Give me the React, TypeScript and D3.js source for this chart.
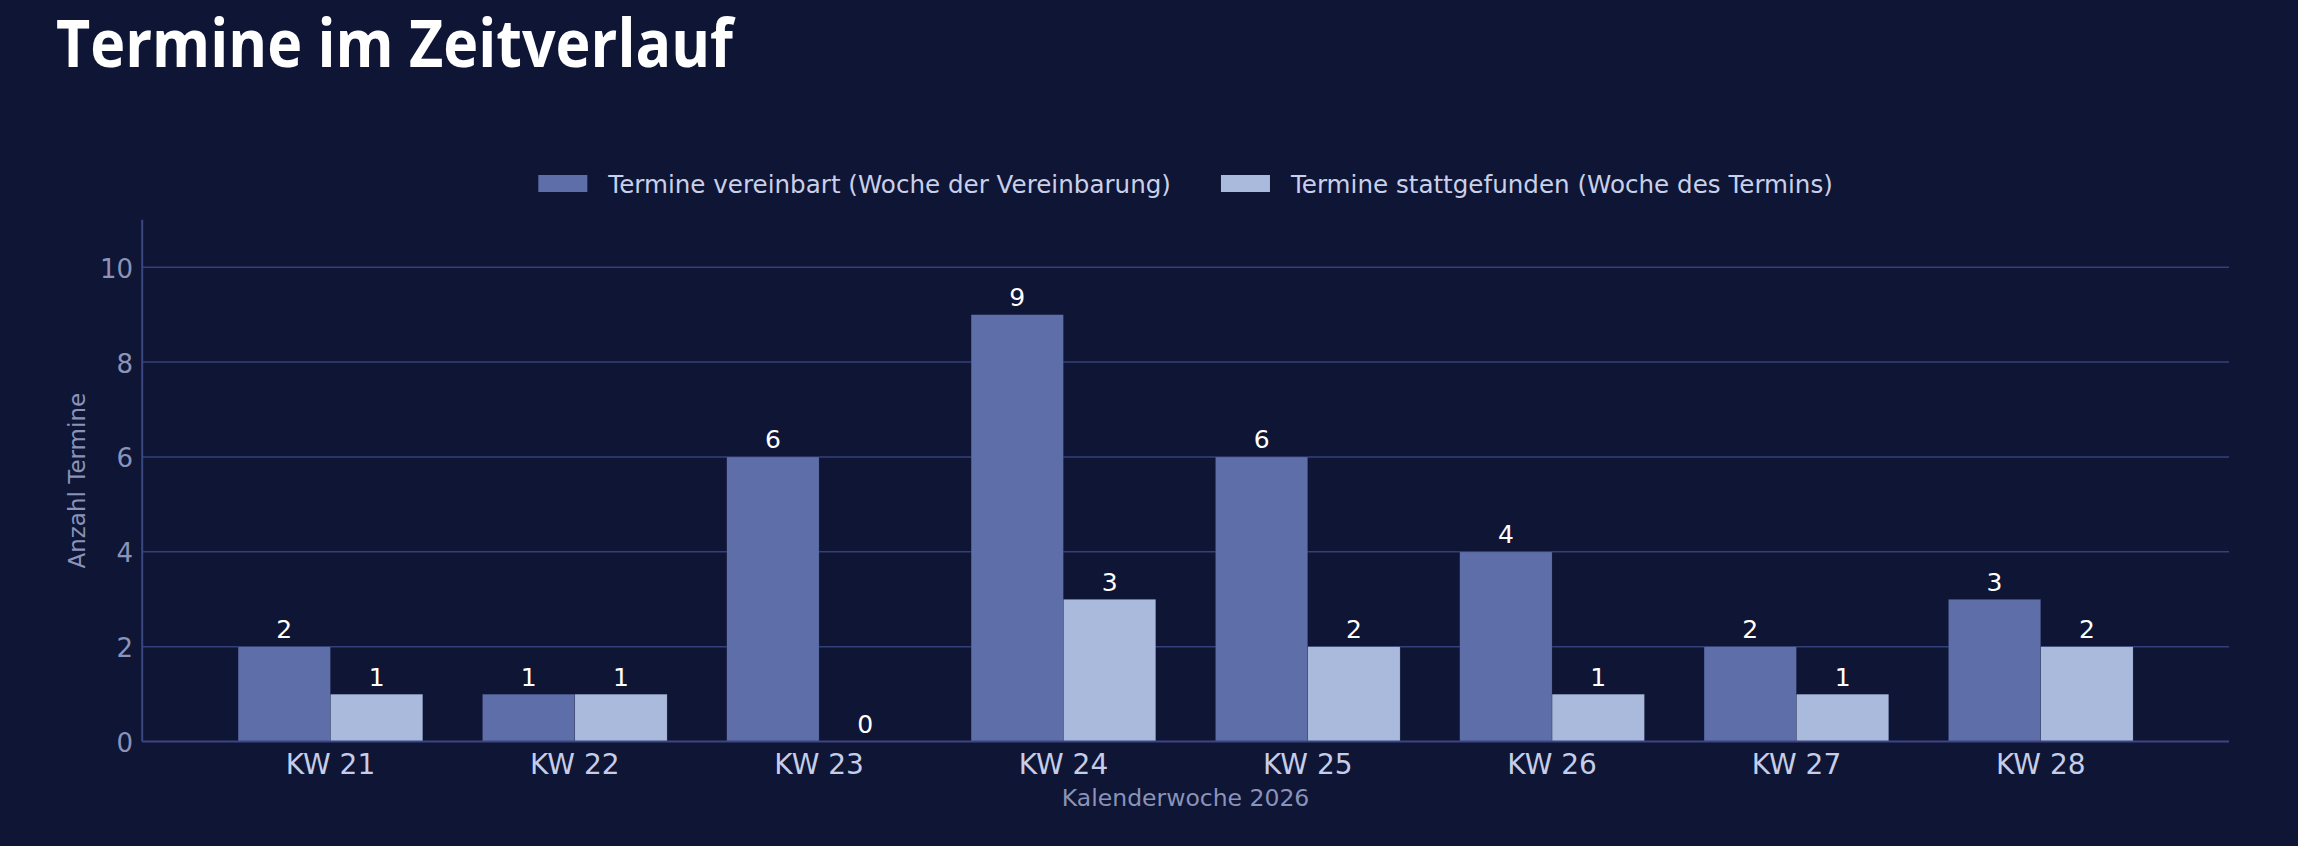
import React, { useEffect, useRef } from 'react';
import * as d3 from 'd3';

const weeks = ['KW 21', 'KW 22', 'KW 23', 'KW 24', 'KW 25', 'KW 26', 'KW 27', 'KW 28'];
const vereinbart = [2, 1, 6, 9, 6, 4, 2, 3];
const stattgefunden = [1, 1, 0, 3, 2, 1, 1, 2];
const seriesNames = [
  'Termine vereinbart (Woche der Vereinbarung)',
  'Termine stattgefunden (Woche des Termins)',
];
const yTicks = [0, 2, 4, 6, 8, 10];

const WIDTH = 2298;
const HEIGHT = 846;
const BG = '#0f1535';
const COLORS = ['#5e6ea9', '#a9badd'];

export default function App() {
  const svgRef = useRef<SVGSVGElement>(null);

  useEffect(() => {
    document.body.style.margin = '0';
    document.body.style.background = BG;
    if (!svgRef.current) return;

    const svg = d3.select(svgRef.current);
    svg.selectAll('*').remove();

    const plot = { left: 142.2, right: 2229, top: 219.8, bottom: 741.6 };

    svg.append('rect')
      .attr('width', WIDTH)
      .attr('height', HEIGHT)
      .attr('fill', BG);

    // Title (normal Open Sans squeezed a little to the reference width)
    svg.append('text')
      .attr('x', 56)
      .attr('y', 67)
      .attr('fill', '#ffffff')
      .attr('font-family', '"Open Sans", sans-serif')
      .attr('font-weight', 700)
      .attr('font-size', '67px')
      .attr('textLength', 677)
      .attr('lengthAdjust', 'spacingAndGlyphs')
      .text('Termine im Zeitverlauf');

    // Scales
    const x0 = d3.scaleBand<string>()
      .domain(weeks)
      .range([plot.left, plot.right])
      .paddingInner(0.244)
      .paddingOuter(0.3925);

    const x1 = d3.scaleBand<number>()
      .domain([0, 1])
      .range([0, x0.bandwidth()]);

    const y = d3.scaleLinear()
      .domain([0, 11])
      .range([plot.bottom, plot.top]);

    // Gridlines
    svg.append('g')
      .selectAll('line')
      .data(yTicks.filter(t => t > 0))
      .enter()
      .append('line')
      .attr('x1', plot.left)
      .attr('x2', plot.right)
      .attr('y1', d => y(d))
      .attr('y2', d => y(d))
      .attr('stroke', '#34407a')
      .attr('stroke-width', 1.5);

    // Bars
    const rows = weeks.map((w, i) => ({ week: w, values: [vereinbart[i], stattgefunden[i]] }));

    const groups = svg.append('g')
      .selectAll('g')
      .data(rows)
      .enter()
      .append('g')
      .attr('transform', d => `translate(${x0(d.week)},0)`);

    groups.selectAll('rect')
      .data(d => d.values.map((v, s) => ({ v, s })))
      .enter()
      .append('rect')
      .attr('x', d => x1(d.s)!)
      .attr('y', d => y(d.v))
      .attr('width', x1.bandwidth())
      .attr('height', d => y(0) - y(d.v))
      .attr('fill', d => COLORS[d.s])
      .attr('stroke', BG)
      .attr('stroke-width', 0.5)
      .attr('stroke-opacity', 0.4);

    // Value labels
    groups.selectAll('text')
      .data(d => d.values.map((v, s) => ({ v, s })))
      .enter()
      .append('text')
      .attr('x', d => x1(d.s)! + x1.bandwidth() / 2)
      .attr('y', d => y(d.v) - 8.5)
      .attr('text-anchor', 'middle')
      .attr('fill', '#ffffff')
      .attr('font-family', '"DejaVu Sans", sans-serif')
      .attr('font-size', '25px')
      .text(d => d.v);

    // Axes lines
    svg.append('line')
      .attr('x1', plot.left)
      .attr('x2', plot.left)
      .attr('y1', plot.top)
      .attr('y2', plot.bottom)
      .attr('stroke', '#3a4782')
      .attr('stroke-width', 2);

    svg.append('line')
      .attr('x1', plot.left)
      .attr('x2', plot.right)
      .attr('y1', plot.bottom)
      .attr('y2', plot.bottom)
      .attr('stroke', '#3a4782')
      .attr('stroke-width', 2);

    // Y tick labels
    svg.append('g')
      .selectAll('text')
      .data(yTicks)
      .enter()
      .append('text')
      .attr('x', 133)
      .attr('y', d => y(d) + 10.5)
      .attr('text-anchor', 'end')
      .attr('fill', '#8a93b8')
      .attr('font-family', '"DejaVu Sans", sans-serif')
      .attr('font-size', '26px')
      .text(d => d);

    // X tick labels
    svg.append('g')
      .selectAll('text')
      .data(weeks)
      .enter()
      .append('text')
      .attr('x', d => x0(d)! + x0.bandwidth() / 2)
      .attr('y', 773.5)
      .attr('text-anchor', 'middle')
      .attr('fill', '#c5cde8')
      .attr('font-family', '"DejaVu Sans", sans-serif')
      .attr('font-size', '28px')
      .text(d => d);

    // Axis titles
    svg.append('text')
      .attr('x', (plot.left + plot.right) / 2)
      .attr('y', 805.5)
      .attr('text-anchor', 'middle')
      .attr('fill', '#8a93b8')
      .attr('font-family', '"DejaVu Sans", sans-serif')
      .attr('font-size', '23.5px')
      .text('Kalenderwoche 2026');

    svg.append('text')
      .attr('transform', `translate(85,${(plot.top + plot.bottom) / 2}) rotate(-90)`)
      .attr('text-anchor', 'middle')
      .attr('fill', '#8a93b8')
      .attr('font-family', '"DejaVu Sans", sans-serif')
      .attr('font-size', '23px')
      .text('Anzahl Termine');

    // Legend, centred over the plot
    const legend = svg.append('g');
    const items = legend.selectAll('g')
      .data(seriesNames)
      .enter()
      .append('g');

    items.append('rect')
      .attr('width', 49)
      .attr('height', 17)
      .attr('y', 175)
      .attr('fill', (_, i) => COLORS[i]);

    const labels = items.append('text')
      .attr('x', 70)
      .attr('y', 192.5)
      .attr('fill', '#c8d0ea')
      .attr('font-family', '"DejaVu Sans", sans-serif')
      .attr('font-size', '24.6px')
      .text(d => d);

    const widths: number[] = [];
    labels.each(function () {
      widths.push((this as SVGTextElement).getComputedTextLength());
    });
    const gap = 50;
    const itemW = widths.map(w => 70 + w);
    const total = d3.sum(itemW) + gap * (itemW.length - 1);
    let cx = (plot.left + plot.right) / 2 - total / 2;
    items.attr('transform', (_, i) => {
      const tx = cx;
      cx += itemW[i] + gap;
      return `translate(${tx},0)`;
    });
  }, []);

  return (
    <svg
      ref={svgRef}
      width={WIDTH}
      height={HEIGHT}
      style={{ display: 'block', position: 'absolute', left: 0, top: 0 }}
    />
  );
}
